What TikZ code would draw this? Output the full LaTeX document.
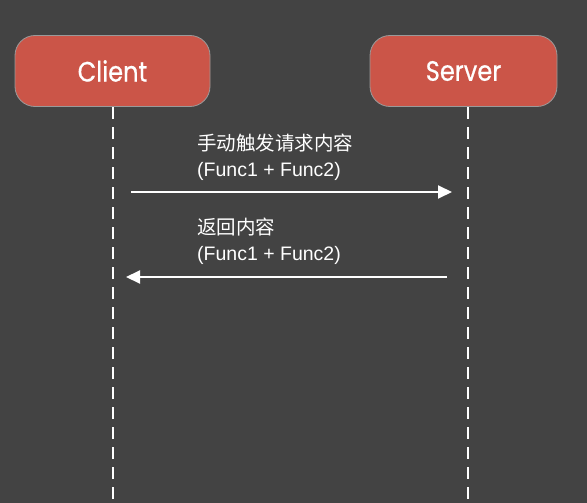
\documentclass[tikz,border=0pt]{standalone}
\usepackage{fontspec}
\setmainfont{Noto Sans CJK SC}
\newfontfamily\boxfont[FakeBold=0.6,FakeStretch=0.86]{Poppins}
\newfontfamily\latinfont{Liberation Sans}
\usetikzlibrary{arrows.meta}
\definecolor{bg}{HTML}{434343}
\definecolor{boxred}{HTML}{CB5548}
\definecolor{boxedge}{HTML}{9A9A9A}
\tikzset{
  actor/.style={draw=boxedge, line width=0.8pt, fill=boxred, rounded corners=20pt,
    minimum width=#1, minimum height=71pt, inner sep=0pt, text=white,
    font=\boxfont\fontsize{28}{28}\selectfont},
  lifeline/.style={draw=white, line width=1.6pt, dash pattern=on 12pt off 8pt},
  msg/.style={draw=white, line width=2pt, -{Triangle[length=14pt,width=13pt]}},
  lbl/.style={text=white, anchor=west, inner sep=0pt, font=\fontsize{19.5}{19.5}\selectfont},
  lbllat/.style={lbl, font=\latinfont\fontsize{19.5}{19.5}\selectfont}
}
\begin{document}
\begin{tikzpicture}[x=1pt,y=-1pt]
\fill[bg] (0,0) rectangle (587,503);
\useasboundingbox (0,0) rectangle (587,503);
\node[actor=195pt] (client) at (112.5,71) {Client};
\node[actor=187pt] (server) at (463.5,71) {Server};
\coordinate (cend) at (113,503);
\coordinate (send) at (468,503);
\draw[lifeline] (113,107) -- (cend);
\draw[lifeline] (468,107) -- (send);
\coordinate (a1s) at (131,192);
\coordinate (a1e) at (452,192);
\coordinate (a2s) at (447,277);
\coordinate (a2e) at (126,277);
\draw[msg] (a1s) -- (a1e);
\draw[msg] (a2s) -- (a2e);
\node[lbl] (t1) at (197,143) {手动触发请求内容};
\node[lbllat] (t2) at (197,171) {(Func1 + Func2)};
\node[lbl] (t3) at (197,227) {返回内容};
\node[lbllat] (t4) at (197,255) {(Func1 + Func2)};
\end{tikzpicture}
\end{document}
